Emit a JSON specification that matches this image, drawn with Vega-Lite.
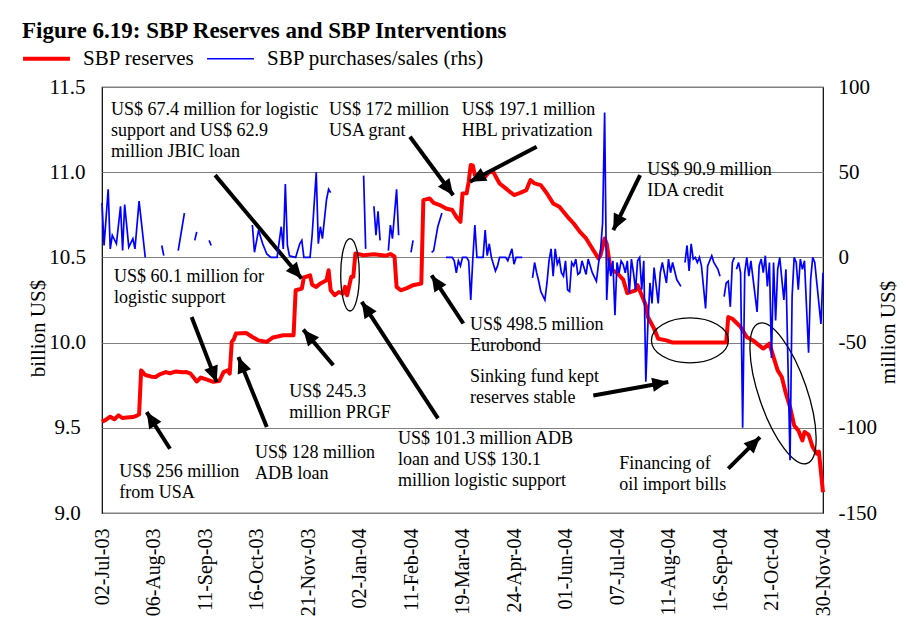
{
  "$schema": "https://vega.github.io/schema/vega-lite/v6.json",
  "width": 721,
  "height": 426,
  "autosize": {"type": "none"},
  "padding": {"left": 102, "top": 87, "right": 79, "bottom": 128},
  "background": "white",
  "title": {
    "text": "Figure 6.19: SBP Reserves and SBP Interventions",
    "anchor": "start",
    "frame": "group",
    "font": "Liberation Serif",
    "fontSize": 23,
    "fontWeight": "bold",
    "color": "#000",
    "dx": -80,
    "dy": -5,
    "offset": 0
  },
  "datasets": {
    "reserves": [
      {"t":0,"r":9.535},{"t":2,"r":9.548},{"t":4,"r":9.565},{"t":6,"r":9.55},{"t":8,"r":9.573},{"t":10,"r":9.557},{"t":12,"r":9.56},{"t":15,"r":9.563},{"t":17,"r":9.572},{"t":18,"r":9.578},
      {"t":19,"r":9.837},{"t":21,"r":9.81},{"t":24,"r":9.8},{"t":26,"r":9.798},{"t":28,"r":9.814},{"t":31,"r":9.827},{"t":33,"r":9.82},{"t":36,"r":9.831},{"t":39,"r":9.826},{"t":41,"r":9.827},
      {"t":43,"r":9.818},{"t":44,"r":9.802},{"t":46,"r":9.772},{"t":48,"r":9.795},{"t":51,"r":9.783},{"t":54,"r":9.77},{"t":57,"r":9.775},{"t":59,"r":9.827},{"t":61,"r":9.837},{"t":62,"r":9.818},
      {"t":63,"r":10.004},{"t":64,"r":10.02},{"t":65,"r":10.053},{"t":70,"r":10.056},{"t":73,"r":10.033},{"t":76,"r":10.013},{"t":80,"r":10.004},{"t":83,"r":10.03},{"t":88,"r":10.043},{"t":93,"r":10.043},
      {"t":94,"r":10.307},{"t":97,"r":10.317},{"t":98,"r":10.382},{"t":101,"r":10.395},{"t":102,"r":10.34},{"t":104,"r":10.327},{"t":106,"r":10.347},{"t":109,"r":10.366},{"t":110,"r":10.425},{"t":111,"r":10.307},
      {"t":113,"r":10.278},{"t":115,"r":10.297},{"t":117,"r":10.287},{"t":118,"r":10.327},{"t":119,"r":10.278},{"t":121,"r":10.386},{"t":122,"r":10.386},{"t":123,"r":10.523},{"t":127,"r":10.513},{"t":132,"r":10.519},
      {"t":138,"r":10.51},{"t":140,"r":10.52},{"t":142,"r":10.505},{"t":143,"r":10.327},{"t":145,"r":10.307},{"t":148,"r":10.32},{"t":151,"r":10.337},{"t":155,"r":10.347},{"t":156,"r":10.836},{"t":159,"r":10.846},
      {"t":161,"r":10.82},{"t":164,"r":10.807},{"t":167,"r":10.787},{"t":170,"r":10.778},{"t":172,"r":10.738},{"t":174,"r":10.709},{"t":175,"r":10.875},{"t":177,"r":10.876},{"t":178,"r":10.944},{"t":179,"r":11.042},
      {"t":180,"r":11.04},{"t":181,"r":10.983},{"t":184,"r":10.98},{"t":186,"r":10.973},{"t":188,"r":11.002},{"t":190,"r":11.0},{"t":193,"r":10.934},{"t":196,"r":10.905},{"t":200,"r":10.866},{"t":203,"r":10.879},
      {"t":206,"r":10.895},{"t":208,"r":10.954},{"t":210,"r":10.934},{"t":213,"r":10.924},{"t":216,"r":10.875},{"t":219,"r":10.817},{"t":222,"r":10.797},{"t":226,"r":10.738},{"t":229,"r":10.699},{"t":232,"r":10.65},
      {"t":235,"r":10.611},{"t":238,"r":10.552},{"t":241,"r":10.494},{"t":242,"r":10.513},{"t":244,"r":10.611},{"t":245,"r":10.58},{"t":246,"r":10.5},{"t":247,"r":10.43},{"t":250,"r":10.41},{"t":253,"r":10.37},
      {"t":255,"r":10.29},{"t":259,"r":10.307},{"t":260,"r":10.337},{"t":262,"r":10.278},{"t":264,"r":10.219},{"t":265,"r":10.15},{"t":268,"r":10.082},{"t":270,"r":10.023},{"t":274,"r":10.013},{"t":277,"r":10.0},
      {"t":290,"r":10.0},{"t":303,"r":10.0},{"t":304,"r":10.15},{"t":306,"r":10.14},{"t":310,"r":10.092},{"t":313,"r":10.033},{"t":316,"r":10.013},{"t":319,"r":9.984},{"t":321,"r":9.965},{"t":324,"r":9.994},
      {"t":326,"r":9.915},{"t":328,"r":9.837},{"t":330,"r":9.798},{"t":332,"r":9.7},{"t":334,"r":9.622},{"t":336,"r":9.514},{"t":338,"r":9.485},{"t":340,"r":9.426},{"t":341,"r":9.475},{"t":343,"r":9.46},
      {"t":345,"r":9.387},{"t":347,"r":9.348},{"t":348,"r":9.36},{"t":350,"r":9.122}
    ],
    "flows": [
      {"t":0,"p":32,"s":1},{"t":1,"p":7,"s":1},{"t":3,"p":40,"s":1},{"t":4,"p":5,"s":1},{"t":5,"p":13,"s":1},{"t":7,"p":8,"s":1},{"t":9,"p":30,"s":1},{"t":10,"p":4,"s":1},{"t":11,"p":31,"s":1},{"t":13,"p":6,"s":1},{"t":15,"p":11,"s":1},{"t":16,"p":5,"s":1},{"t":18,"p":33,"s":1},{"t":21,"p":0,"s":1},
      {"t":29,"p":7,"s":2},{"t":30,"p":1,"s":2},
      {"t":37,"p":4,"s":3},{"t":40,"p":26,"s":3},
      {"t":45,"p":10,"s":4},{"t":46,"p":15,"s":4},
      {"t":52,"p":10,"s":5},{"t":53,"p":7,"s":5},
      {"t":73,"p":19,"s":6},{"t":74,"p":3,"s":6},{"t":76,"p":16,"s":6},{"t":78,"p":8,"s":6},{"t":80,"p":2,"s":6},{"t":82,"p":0,"s":6},{"t":85,"p":0,"s":6},{"t":87,"p":18,"s":6},{"t":88,"p":5,"s":6},{"t":89,"p":43,"s":6},{"t":90,"p":7,"s":6},{"t":91,"p":1,"s":6},{"t":94,"p":0,"s":6},{"t":96,"p":8,"s":6},{"t":97,"p":10,"s":6},{"t":98,"p":0,"s":6},{"t":101,"p":0,"s":6},{"t":102,"p":13,"s":6},{"t":104,"p":50,"s":6},{"t":105,"p":8,"s":6},{"t":106,"p":18,"s":6},{"t":107,"p":11,"s":6},{"t":109,"p":34,"s":6},{"t":110,"p":40,"s":6},{"t":111,"p":38,"s":6},
      {"t":127,"p":48,"s":7},{"t":128,"p":5,"s":7},
      {"t":132,"p":30,"s":8},{"t":133,"p":13,"s":8},{"t":134,"p":27,"s":8},{"t":135,"p":10,"s":8},
      {"t":139,"p":4,"s":9},{"t":140,"p":19,"s":9},{"t":141,"p":11,"s":9},{"t":143,"p":40,"s":9},{"t":144,"p":13,"s":9},
      {"t":150,"p":3,"s":10},{"t":151,"p":10,"s":10},
      {"t":160,"p":3,"s":11},{"t":161,"p":4,"s":11},{"t":163,"p":18,"s":11},{"t":165,"p":26,"s":11},
      {"t":167,"p":0,"s":12},{"t":170,"p":0,"s":12},{"t":171,"p":-2,"s":12},{"t":172,"p":-9,"s":12},{"t":173,"p":-2,"s":12},{"t":174,"p":-5,"s":12},{"t":175,"p":0,"s":12},{"t":177,"p":0,"s":12},{"t":178,"p":-2,"s":12},{"t":179,"p":-25,"s":12},{"t":180,"p":-1,"s":12},{"t":181,"p":19,"s":12},{"t":182,"p":0,"s":12},{"t":185,"p":0,"s":12},{"t":186,"p":16,"s":12},{"t":187,"p":1,"s":12},{"t":188,"p":8,"s":12},{"t":189,"p":0,"s":12},{"t":190,"p":-4,"s":12},{"t":191,"p":-8,"s":12},{"t":192,"p":-5,"s":12},{"t":193,"p":0,"s":12},{"t":196,"p":0,"s":12},{"t":197,"p":-2,"s":12},{"t":199,"p":5,"s":12},{"t":200,"p":-4,"s":12},{"t":201,"p":0,"s":12},{"t":204,"p":0,"s":12},
      {"t":209,"p":-12,"s":13},{"t":210,"p":-3,"s":13},{"t":211,"p":-9,"s":13},{"t":212,"p":-14,"s":13},{"t":213,"p":-20,"s":13},{"t":215,"p":-25,"s":13},{"t":216,"p":-15,"s":13},{"t":217,"p":-2,"s":13},{"t":218,"p":5,"s":13},{"t":219,"p":-11,"s":13},{"t":220,"p":5,"s":13},{"t":221,"p":-4,"s":13},{"t":222,"p":-1,"s":13},{"t":223,"p":-9,"s":13},{"t":224,"p":-11,"s":13},{"t":225,"p":-2,"s":13},{"t":226,"p":-19,"s":13},{"t":227,"p":-20,"s":13},{"t":228,"p":-3,"s":13},{"t":229,"p":-5,"s":13},{"t":230,"p":-1,"s":13},{"t":231,"p":-10,"s":13},{"t":232,"p":-9,"s":13},{"t":233,"p":-2,"s":13},{"t":235,"p":-10,"s":13},{"t":236,"p":-1,"s":13},{"t":238,"p":-9,"s":13},{"t":240,"p":-14,"s":13},{"t":241,"p":-4,"s":13},{"t":242,"p":4,"s":13},{"t":243,"p":20,"s":13},{"t":244,"p":85,"s":13},{"t":245,"p":-25,"s":13},{"t":246,"p":0,"s":13},{"t":247,"p":-11,"s":13},{"t":248,"p":-2,"s":13},{"t":249,"p":-34,"s":13},{"t":250,"p":-3,"s":13},{"t":251,"p":-9,"s":13},{"t":252,"p":-2,"s":13},{"t":253,"p":-4,"s":13},{"t":254,"p":-9,"s":13},{"t":255,"p":-2,"s":13},{"t":256,"p":-21,"s":13},{"t":257,"p":-1,"s":13},{"t":258,"p":-9,"s":13},{"t":259,"p":-19,"s":13},{"t":260,"p":-2,"s":13},{"t":261,"p":0,"s":13},{"t":262,"p":-19,"s":13},{"t":263,"p":-2,"s":13},{"t":264,"p":-73,"s":13},{"t":265,"p":-39,"s":13},{"t":266,"p":-15,"s":13},{"t":267,"p":-27,"s":13},{"t":268,"p":-6,"s":13},{"t":270,"p":-27,"s":13},{"t":271,"p":-9,"s":13},{"t":272,"p":-3,"s":13},{"t":274,"p":-15,"s":13},{"t":275,"p":-1,"s":13},{"t":276,"p":-9,"s":13},{"t":277,"p":-3,"s":13},{"t":279,"p":-13,"s":13},{"t":281,"p":-17,"s":13},
      {"t":283,"p":-3,"s":14},{"t":284,"p":7,"s":14},{"t":285,"p":-8,"s":14},{"t":286,"p":8,"s":14},{"t":287,"p":-1,"s":14},{"t":288,"p":0,"s":14},{"t":289,"p":-3,"s":14},{"t":290,"p":0,"s":14},{"t":291,"p":-5,"s":14},{"t":293,"p":-30,"s":14},{"t":294,"p":-5,"s":14},{"t":296,"p":1,"s":14},{"t":297,"p":-3,"s":14},{"t":299,"p":-7,"s":14},{"t":300,"p":-11,"s":14},
      {"t":302,"p":-23,"s":15},{"t":303,"p":-15,"s":15},{"t":304,"p":-14,"s":15},{"t":305,"p":-29,"s":15},{"t":306,"p":-3,"s":15},{"t":307,"p":0,"s":15},
      {"t":308,"p":-7,"s":16},{"t":309,"p":-3,"s":16},{"t":310,"p":-9,"s":16},{"t":311,"p":-100,"s":16},{"t":312,"p":-9,"s":16},{"t":313,"p":0,"s":16},{"t":314,"p":-11,"s":16},{"t":315,"p":-2,"s":16},{"t":318,"p":-32,"s":16},{"t":319,"p":-5,"s":16},{"t":320,"p":-1,"s":16},{"t":321,"p":-9,"s":16},{"t":322,"p":1,"s":16},{"t":323,"p":-17,"s":16},{"t":324,"p":-3,"s":16},{"t":325,"p":-59,"s":16},{"t":326,"p":-3,"s":16},{"t":327,"p":-37,"s":16},{"t":328,"p":-7,"s":16},{"t":329,"p":0,"s":16},{"t":331,"p":-25,"s":16},{"t":332,"p":-7,"s":16},{"t":334,"p":-119,"s":16},{"t":335,"p":-23,"s":16},{"t":336,"p":0,"s":16},{"t":337,"p":-3,"s":16},{"t":338,"p":-19,"s":16},{"t":339,"p":-1,"s":16},{"t":340,"p":-7,"s":16},{"t":341,"p":-2,"s":16},{"t":343,"p":-56,"s":16},{"t":344,"p":-13,"s":16},{"t":345,"p":0,"s":16},{"t":346,"p":-3,"s":16},{"t":347,"p":-15,"s":16},{"t":349,"p":-39,"s":16},{"t":350,"p":-9,"s":16}
    ],
    "notes": [
      {"t":4.4,"r":11.334,"label":"US$ 67.4 million for logistic\nsupport and US$ 62.9\nmillion JBIC loan"},
      {"t":110.2,"r":11.334,"label":"US$ 172 million\nUSA grant"},
      {"t":174.6,"r":11.338,"label":"US$ 197.1 million\nHBL privatization"},
      {"t":264.7,"r":10.985,"label":"US$ 90.9 million\nIDA credit"},
      {"t":5.8,"r":10.358,"label":"US$ 60.1 million for\nlogistic support"},
      {"t":178.6,"r":10.075,"label":"US$ 498.5 million\nEurobond"},
      {"t":178.6,"r":9.767,"label":"Sinking fund kept\nreserves stable"},
      {"t":90.9,"r":9.683,"label":"US$ 245.3\nmillion PRGF"},
      {"t":8.4,"r":9.213,"label":"US$ 256 million\nfrom USA"},
      {"t":74.3,"r":9.32,"label":"US$ 128 million\nADB loan"},
      {"t":143.7,"r":9.407,"label":"US$ 101.3 million ADB\nloan and US$ 130.1\nmillion logistic support"},
      {"t":251.1,"r":9.256,"label":"Financing of\noil import bills"}
    ],
    "arrows": [
      {"t":33.0,"r":9.377,"t2":21.7,"r2":9.592,"ang":-32.5},
      {"t":80.0,"r":9.504,"t2":66.2,"r2":9.915,"ang":-22.1},
      {"t":43.5,"r":10.15,"t2":55.7,"r2":9.768,"ang":159},
      {"t":112.3,"r":9.867,"t2":97.7,"r2":10.076,"ang":-40},
      {"t":54.9,"r":10.983,"t2":96.9,"r2":10.376,"ang":140},
      {"t":163.1,"r":9.555,"t2":126.1,"r2":10.239,"ang":-33.3},
      {"t":149.5,"r":11.208,"t2":170.5,"r2":10.865,"ang":143.4},
      {"t":211.0,"r":11.149,"t2":178.6,"r2":10.944,"ang":-117.7},
      {"t":175.4,"r":10.112,"t2":160.0,"r2":10.395,"ang":-33.2},
      {"t":261.2,"r":10.983,"t2":248.2,"r2":10.66,"ang":-154.1},
      {"t":238.5,"r":9.69,"t2":274.9,"r2":9.769,"ang":79.9},
      {"t":304.0,"r":9.26,"t2":319.4,"r2":9.445,"ang":45.1}
    ],
    "ring1": [{"t":120.4,"r":10.398}],
    "ring2": [{"t":285.4,"r":10.013}],
    "ring3": [{"t":330.6,"r":9.702}]
  },
  "layer": [
    {
      "layer": [
        {
          "data": {"name": "reserves"},
          "mark": {"type": "line", "strokeWidth": 4, "strokeJoin": "round"},
          "encoding": {
            "x": {
              "field": "t", "type": "quantitative",
              "scale": {"domain": [0, 350], "nice": false, "zero": false},
              "axis": {
                "title": null,
                "values": [0,25,50,75,100,125,150,175,200,225,250,275,300,325,350],
                "labelExpr": "['02-Jul-03','06-Aug-03','11-Sep-03','16-Oct-03','21-Nov-03','02-Jan-04','11-Feb-04','19-Mar-04','24-Apr-04','01-Jun-04','07-Jul-04','11-Aug-04','16-Sep-04','21-Oct-04','30-Nov-04'][round(datum.value/25)]",
                "labelAngle": 270,
                "labelAlign": "right",
                "labelBaseline": "middle",
                "labelPadding": 15,
                "labelFontSize": 20,
                "labelFlush": false,
                "labelOverlap": false,
                "grid": false
              }
            },
            "y": {
              "field": "r", "type": "quantitative",
              "scale": {"domain": [9, 11.5], "nice": false, "zero": false},
              "axis": {
                "title": "billion US$",
                "values": [9, 9.5, 10, 10.5, 11, 11.5],
                "format": ".1f",
                "grid": true,
                "gridColor": "#808080",
                "gridWidth": 1,
                "labelAlign": "center",
                "labelBaseline": "middle",
                "labelPadding": 35,
                "labelFontSize": 21,
                "labelOverlap": false,
                "titleFontSize": 21,
                "titleAngle": 270,
                "titleX": -64,
                "titleY": 241,
                "titleBaseline": "middle",
                "titleAlign": "center"
              }
            },
            "color": {
              "datum": "SBP reserves", "type": "nominal",
              "scale": {"domain": ["SBP reserves", "SBP purchases/sales (rhs)"], "range": ["#ff0000", "#0000ff"]},
              "legend": {
                "title": null,
                "orient": "none",
                "legendX": -75,
                "legendY": -39,
                "direction": "horizontal",
                "symbolType": "stroke",
                "symbolSize": 2200,
                "symbolStrokeWidth": 4,
                "symbolOffset": 9,
                "labelFont": "Liberation Serif",
                "labelFontSize": 21,
                "labelColor": "#000",
                "labelOffset": 26,
                "labelLimit": 0,
                "columnPadding": 8,
                "padding": 0,
                "encode": {"symbols": {"update": {"strokeWidth": {"signal": "datum.value === 'SBP reserves' ? 4 : 1.7"}}}}
              }
            }
          }
        },
        {
          "data": {"name": "arrows"},
          "mark": {"type": "rule", "color": "#000", "strokeWidth": 4},
          "encoding": {
            "x": {"field": "t", "type": "quantitative"},
            "y": {"field": "r", "type": "quantitative"},
            "x2": {"field": "t2"},
            "y2": {"field": "r2"}
          }
        },
        {
          "data": {"name": "arrows"},
          "mark": {"type": "point", "shape": "M 0 0 L 0.45 1 L -0.45 1 Z", "size": 1024, "filled": true, "color": "#000", "opacity": 1},
          "encoding": {
            "x": {"field": "t2", "type": "quantitative"},
            "y": {"field": "r2", "type": "quantitative"},
            "angle": {"field": "ang", "type": "quantitative", "scale": null}
          }
        },
        {
          "data": {"name": "notes"},
          "mark": {"type": "text", "align": "left", "baseline": "alphabetic", "font": "Liberation Serif", "fontSize": 18, "lineHeight": 21, "lineBreak": "\n", "color": "#000"},
          "encoding": {
            "x": {"field": "t", "type": "quantitative"},
            "y": {"field": "r", "type": "quantitative"},
            "text": {"field": "label"}
          }
        },
        {
          "data": {"name": "ring1"},
          "mark": {"type": "point", "shape": "M -0.257 0 A 0.257 1 0 1 1 0.257 0 A 0.257 1 0 1 1 -0.257 0 Z", "size": 5242, "filled": false, "stroke": "#000", "strokeWidth": 1.3, "opacity": 1},
          "encoding": {
            "x": {"field": "t", "type": "quantitative"},
            "y": {"field": "r", "type": "quantitative"}
          }
        },
        {
          "data": {"name": "ring2"},
          "mark": {"type": "point", "shape": "M -1 0 A 1 0.584 0 1 1 1 0 A 1 0.584 0 1 1 -1 0 Z", "size": 5929, "filled": false, "stroke": "#000", "strokeWidth": 1.3, "opacity": 1},
          "encoding": {
            "x": {"field": "t", "type": "quantitative"},
            "y": {"field": "r", "type": "quantitative"}
          }
        },
        {
          "data": {"name": "ring3"},
          "mark": {"type": "point", "shape": "M -0.324 0 A 0.324 1 0 1 1 0.324 0 A 0.324 1 0 1 1 -0.324 0 Z", "size": 21904, "angle": -19, "filled": false, "stroke": "#000", "strokeWidth": 1.3, "opacity": 1},
          "encoding": {
            "x": {"field": "t", "type": "quantitative"},
            "y": {"field": "r", "type": "quantitative"}
          }
        }
      ]
    },
    {
      "data": {"name": "flows"},
      "mark": {"type": "line", "strokeWidth": 1.7},
      "encoding": {
        "x": {"field": "t", "type": "quantitative"},
        "y": {
          "field": "p", "type": "quantitative",
          "scale": {"domain": [-150, 100], "nice": false, "zero": false},
          "axis": {
            "orient": "right",
            "title": "million US$",
            "values": [-150, -100, -50, 0, 50, 100],
            "labelExpr": "datum.value < 0 ? '-' + abs(datum.value) : '' + datum.value",
            "grid": false,
            "labelAlign": "left",
            "labelBaseline": "middle",
            "labelPadding": 15,
            "labelFontSize": 21,
            "labelOverlap": false,
            "titleFontSize": 21,
            "titleAngle": 270,
            "titleX": 65,
            "titleY": 245,
            "titleBaseline": "middle",
            "titleAlign": "center"
          }
        },
        "color": {"datum": "SBP purchases/sales (rhs)", "type": "nominal"},
        "detail": {"field": "s", "type": "nominal"}
      }
    }
  ],
  "resolve": {"scale": {"y": "independent"}},
  "config": {
    "font": "Liberation Serif",
    "view": {"stroke": "#000", "strokeWidth": 1.2},
    "axis": {
      "labelColor": "#000",
      "titleColor": "#000",
      "labelFont": "Liberation Serif",
      "titleFont": "Liberation Serif",
      "titleFontWeight": "normal",
      "domain": false,
      "ticks": false,
      "tickSize": 0
    }
  }
}
